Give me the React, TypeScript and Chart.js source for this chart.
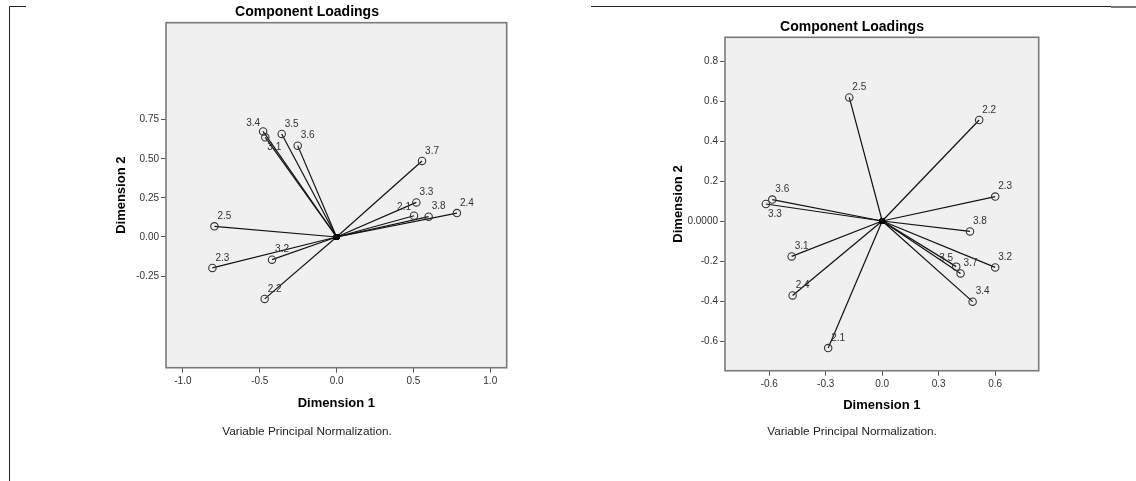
import React, { useEffect, useRef } from 'react';
import { Chart, registerables } from 'chart.js';

Chart.register(...registerables);
Chart.defaults.font.family = '"Liberation Sans", Arial, sans-serif';

// ---- data ----
const variables = ['2.1', '2.2', '2.3', '2.4', '2.5', '3.1', '3.2', '3.3', '3.4', '3.5', '3.6', '3.7', '3.8'];

const leftDim1 = [0.504, -0.468, -0.808, 0.783, -0.795, -0.464, -0.42, 0.519, -0.478, -0.357, -0.253, 0.556, 0.599];
const leftDim2 = [0.136, -0.396, -0.198, 0.153, 0.068, 0.637, -0.145, 0.221, 0.675, 0.659, 0.584, 0.486, 0.13];

const rightDim1 = [-0.287, 0.515, 0.6, -0.476, -0.175, -0.481, 0.6, -0.618, 0.48, 0.393, -0.584, 0.416, 0.466];
const rightDim2 = [-0.635, 0.505, 0.122, -0.372, 0.618, -0.177, -0.232, 0.085, -0.403, -0.228, 0.107, -0.262, -0.052];

const leftXTicks = [-1.0, -0.5, 0, 0.5, 1.0];
const leftXTickLabels = ['-1.0', '-0.5', '0.0', '0.5', '1.0'];
const leftYTicks = [-0.25, 0, 0.25, 0.5, 0.75];
const leftYTickLabels = ['-0.25', '0.00', '0.25', '0.50', '0.75'];

const rightXTicks = [-0.6, -0.3, 0, 0.3, 0.6];
const rightXTickLabels = ['-0.6', '-0.3', '0.0', '0.3', '0.6'];
const rightYTicks = [-0.6, -0.4, -0.2, 0, 0.2, 0.4, 0.6, 0.8];
const rightYTickLabels = ['-0.6', '-0.4', '-0.2', '0.0000', '0.2', '0.4', '0.6', '0.8'];

const chartTitle = 'Component Loadings';
const xAxisTitle = 'Dimension 1';
const yAxisTitle = 'Dimension 2';
const footnote = 'Variable Principal Normalization.';

// label placement (style): ur = up-right, ul = up-left, dr = down-right
const leftPlacement: Record<string, string> = { '2.1': 'ul', '3.1': 'dr', '3.4': 'ul' };
const rightPlacement: Record<string, string> = { '3.3': 'dr', '3.5': 'ul' };

const FONT = '"Liberation Sans", Arial, sans-serif';

type Spec = {
  dim1: number[];
  dim2: number[];
  xTicks: number[];
  xTickLabels: string[];
  yTicks: number[];
  yTickLabels: string[];
  xMin: number; xMax: number; yMin: number; yMax: number;
  placement: Record<string, string>;
  left: number; width: number;
  padL: number; padR: number;
  yAxisWidth: number; yTitlePad: number;
  xAxisHeight: number;
  titlePad: { top: number; bottom: number };
  footPad: { top: number; bottom: number };
  frame: 'left' | 'right';
};

function buildConfig(spec: Spec): any {
  const vectorSets = variables.map((name, i) => ({
    label: name,
    data: [{ x: 0, y: 0 }, { x: spec.dim1[i], y: spec.dim2[i] }],
    showLine: true,
    borderColor: '#111',
    borderWidth: 1.2,
    pointRadius: (c: any) => (c.dataIndex === 0 ? 2.2 : 3.7),
    pointBorderWidth: (c: any) => (c.dataIndex === 0 ? 1.6 : 1.1),
    pointBorderColor: (c: any) => (c.dataIndex === 0 ? '#000' : '#333'),
    pointBackgroundColor: 'rgba(0,0,0,0)',
  }));

  const bgPlugin = {
    id: 'bgPlugin',
    beforeDraw(chart: any) {
      const { ctx, chartArea: a } = chart;
      ctx.save();
      ctx.fillStyle = '#f0f0f0';
      ctx.fillRect(a.left, a.top, a.right - a.left, a.bottom - a.top);
      // outer frame decoration
      ctx.strokeStyle = '#222';
      ctx.lineWidth = 1;
      ctx.beginPath();
      if (spec.frame === 'left') {
        ctx.moveTo(9.5, 481);
        ctx.lineTo(9.5, 6.5);
        ctx.lineTo(26, 6.5);
      } else {
        ctx.moveTo(31, 6.5);
        ctx.lineTo(551, 6.5);
      }
      ctx.stroke();
      if (spec.frame === 'right') {
        ctx.strokeStyle = '#777';
        ctx.lineWidth = 2;
        ctx.beginPath();
        ctx.moveTo(551, 7);
        ctx.lineTo(576, 7);
        ctx.stroke();
      }
      ctx.restore();
    },
  };

  const boxPlugin = {
    id: 'boxPlugin',
    afterDatasetsDraw(chart: any) {
      const { ctx, chartArea: a, scales } = chart;
      ctx.save();
      // labels
      ctx.font = '10px ' + FONT;
      ctx.fillStyle = '#333';
      ctx.textAlign = 'center';
      ctx.textBaseline = 'middle';
      variables.forEach((name, i) => {
        const px = scales.x.getPixelForValue(spec.dim1[i]);
        const py = scales.y.getPixelForValue(spec.dim2[i]);
        const p = spec.placement[name] || 'ur';
        let dx = 10, dy = -10;
        if (p === 'ul') { dx = -10; dy = -8; }
        if (p === 'dr') { dx = 9; dy = 10; }
        ctx.fillText(name, px + dx, py + dy);
      });
      // plot box border
      ctx.strokeStyle = '#7a7a7a';
      ctx.lineWidth = 1.6;
      ctx.strokeRect(a.left, a.top, a.right - a.left, a.bottom - a.top);
      ctx.restore();
    },
  };

  const tickFont = { size: 10 };

  return {
    type: 'scatter',
    data: { datasets: vectorSets },
    plugins: [bgPlugin, boxPlugin],
    options: {
      animation: false,
      responsive: false,
      events: [],
      layout: { padding: { left: spec.padL, right: spec.padR, top: 0, bottom: 0 } },
      plugins: {
        legend: { display: false },
        tooltip: { enabled: false },
        title: {
          display: true,
          text: chartTitle,
          color: '#000',
          font: { size: 14, weight: 'bold' },
          padding: spec.titlePad,
        },
        subtitle: {
          display: true,
          position: 'bottom',
          text: footnote,
          color: '#222',
          font: { size: 11.8, weight: 'normal' },
          padding: spec.footPad,
        },
      },
      scales: {
        x: {
          type: 'linear',
          min: spec.xMin,
          max: spec.xMax,
          afterBuildTicks: (s: any) => { s.ticks = spec.xTicks.map((v) => ({ value: v })); },
          afterFit: (s: any) => { s.height = spec.xAxisHeight; },
          ticks: {
            callback: (_v: any, i: number) => spec.xTickLabels[i],
            font: tickFont,
            color: '#333',
            padding: 2.5,
            maxRotation: 0,
            autoSkip: false,
          },
          grid: { drawOnChartArea: false, drawTicks: true, tickLength: 5, color: '#555', lineWidth: 1 },
          border: { display: false },
          title: {
            display: true,
            text: xAxisTitle,
            color: '#000',
            font: { size: 13, weight: 'bold' },
            padding: { top: 0, bottom: 0 },
          },
        },
        y: {
          type: 'linear',
          min: spec.yMin,
          max: spec.yMax,
          afterBuildTicks: (s: any) => { s.ticks = spec.yTicks.map((v) => ({ value: v })); },
          afterFit: (s: any) => { s.width = spec.yAxisWidth; },
          ticks: {
            callback: (_v: any, i: number) => spec.yTickLabels[i],
            font: tickFont,
            color: '#333',
            padding: 2,
            autoSkip: false,
          },
          grid: { drawOnChartArea: false, drawTicks: true, tickLength: 5, color: '#555', lineWidth: 1 },
          border: { display: false },
          title: {
            display: true,
            text: yAxisTitle,
            color: '#000',
            font: { size: 13, weight: 'bold' },
            padding: { top: spec.yTitlePad, bottom: 0 },
          },
        },
      },
    },
  };
}

function LoadingsChart({ spec }: { spec: Spec }) {
  const ref = useRef<HTMLCanvasElement>(null);
  useEffect(() => {
    const chart = new Chart(ref.current as HTMLCanvasElement, buildConfig(spec));
    return () => chart.destroy();
  }, []);
  return (
    <canvas
      ref={ref}
      width={spec.width}
      height={481}
      style={{ position: 'absolute', left: spec.left, top: 0, width: spec.width, height: 481 }}
    />
  );
}

const leftSpec: Spec = {
  dim1: leftDim1, dim2: leftDim2,
  xTicks: leftXTicks, xTickLabels: leftXTickLabels,
  yTicks: leftYTicks, yTickLabels: leftYTickLabels,
  xMin: -1.11, xMax: 1.107, yMin: -0.836, yMax: 1.37,
  placement: leftPlacement,
  left: 0, width: 560,
  padL: 107.3, padR: 53.3,
  yAxisWidth: 58.7, yTitlePad: 6.6,
  xAxisHeight: 43.1,
  titlePad: { top: 3.3, bottom: 2.6 },
  footPad: { top: 13.8, bottom: 42.2 },
  frame: 'left',
};

const rightSpec: Spec = {
  dim1: rightDim1, dim2: rightDim2,
  xTicks: rightXTicks, xTickLabels: rightXTickLabels,
  yTicks: rightYTicks, yTickLabels: rightYTickLabels,
  xMin: -0.835, xMax: 0.831, yMin: -0.7485, yMax: 0.9185,
  placement: rightPlacement,
  left: 560, width: 576,
  padL: 105.3, padR: 97.3,
  yAxisWidth: 59.7, yTitlePad: 4.9,
  xAxisHeight: 42.1,
  titlePad: { top: 18.6, bottom: 1.9 },
  footPad: { top: 12.1, bottom: 41.9 },
  frame: 'right',
};

export default function App() {
  return (
    <div style={{ position: 'absolute', left: 0, top: 0, width: 1136, height: 481, background: '#fff', overflow: 'hidden' }}>
      <LoadingsChart spec={leftSpec} />
      <LoadingsChart spec={rightSpec} />
    </div>
  );
}
